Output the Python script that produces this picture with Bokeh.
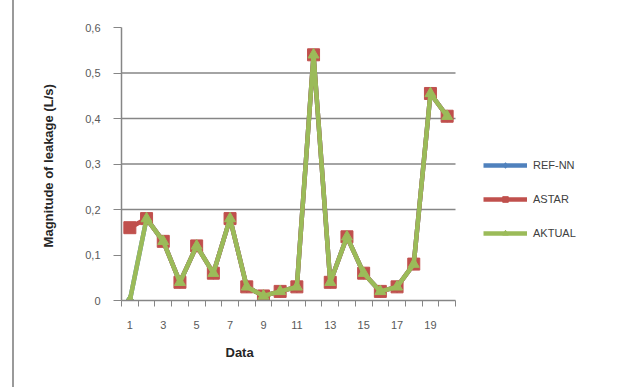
from bokeh.plotting import figure
from bokeh.models import (FixedTicker, Legend, LegendItem, Range1d, Title)
from bokeh.embed import file_html
from bokeh.resources import INLINE

# Observation number (category axis)
data_no = list(range(1, 21))
x_tick_labels = ["1", "3", "5", "7", "9", "11", "13", "15", "17", "19"]

# Magnitude of leakage (L/s) per method
ref_nn = [0.00, 0.18, 0.13, 0.04, 0.12, 0.06, 0.18, 0.03, 0.01, 0.02,
          0.03, 0.54, 0.04, 0.14, 0.06, 0.02, 0.03, 0.08, 0.455, 0.405]
astar = [0.16, 0.18, 0.13, 0.04, 0.12, 0.06, 0.18, 0.03, 0.01, 0.02,
         0.03, 0.54, 0.04, 0.14, 0.06, 0.02, 0.03, 0.08, 0.455, 0.405]
aktual = [0.00, 0.18, 0.13, 0.04, 0.12, 0.06, 0.18, 0.03, 0.01, 0.02,
          0.03, 0.54, 0.04, 0.14, 0.06, 0.02, 0.03, 0.08, 0.455, 0.405]

y_ticks = [0, 0.1, 0.2, 0.3, 0.4, 0.5, 0.6]
y_tick_labels = ["0", "0,1", "0,2", "0,3", "0,4", "0,5", "0,6"]
grid_levels = [0.2, 0.3, 0.4, 0.5]

BLUE = "#4F81BD"
RED = "#C0504D"
GREEN = "#9BBB59"
AXIS_GREY = "#868686"
FONT = "Liberation Sans"

# The frame also holds the legend to the right of the 20 categories;
# the category axis and gridlines are bounded to the plotted span.
FIG_W, BORDER_L, BORDER_R = 614, 107, 8
PLOT_SPAN_PX = 334
n = len(data_no)
x_end = 0.5 + n * (FIG_W - BORDER_L - BORDER_R) / PLOT_SPAN_PX

p = figure(width=FIG_W, height=387, output_backend="svg", toolbar_location=None,
           x_range=Range1d(0.5, x_end), y_range=Range1d(0, 0.6),
           min_border_left=BORDER_L, min_border_right=BORDER_R,
           min_border_top=27, min_border_bottom=87)
p.outline_line_color = None
p.background_fill_color = "white"
p.border_fill_color = "white"

# Category axis
p.xaxis.bounds = (0.5, n + 0.5)
p.xaxis.ticker = FixedTicker(ticks=list(range(1, n, 2)),
                             minor_ticks=[i + 0.5 for i in range(0, n + 1)])
p.xaxis.major_label_overrides = {t: lab for t, lab in zip(range(1, n, 2), x_tick_labels)}
p.xaxis.major_tick_line_color = None
p.xaxis.minor_tick_line_color = AXIS_GREY
p.xaxis.minor_tick_out = 6
p.xaxis.minor_tick_in = 0
p.xaxis.axis_line_color = AXIS_GREY
p.xaxis.axis_line_width = 1.5
p.xaxis.major_label_text_font = FONT
p.xaxis.major_label_text_font_size = "11px"
p.xaxis.major_label_text_color = "#595959"
p.xaxis.major_label_standoff = 14

# Axis title for the category axis, placed under the category span
p.add_layout(Title(text="Data", align="left", offset=104, standoff=23,
                   text_font=FONT, text_font_style="bold",
                   text_font_size="13px", text_color="#262626"), "below")

# Value axis
p.yaxis.ticker = FixedTicker(ticks=y_ticks)
p.yaxis.major_label_overrides = {t: lab for t, lab in zip(y_ticks, y_tick_labels)}
p.yaxis.major_tick_line_color = AXIS_GREY
p.yaxis.major_tick_out = 8
p.yaxis.major_tick_in = 0
p.yaxis.minor_tick_line_color = None
p.yaxis.axis_line_color = AXIS_GREY
p.yaxis.axis_line_width = 1.5
p.yaxis.major_label_text_font = FONT
p.yaxis.major_label_text_font_size = "11px"
p.yaxis.major_label_text_color = "#595959"
p.yaxis.major_label_standoff = 13
p.yaxis.axis_label = "Magnitude of leakage  (L/s)"
p.yaxis.axis_label_text_font = FONT
p.yaxis.axis_label_text_font_style = "bold"
p.yaxis.axis_label_text_font_size = "13px"
p.yaxis.axis_label_text_color = "#262626"
p.yaxis.axis_label_standoff = 26

p.xgrid.visible = False
p.ygrid.visible = False
# Horizontal gridlines across the category span only
p.segment(x0=[0.5] * len(grid_levels), y0=grid_levels,
          x1=[n + 0.5] * len(grid_levels), y1=grid_levels,
          line_color=AXIS_GREY, line_width=1.5)

# Series: REF-NN underneath, then ASTAR, then AKTUAL on top
r_ref_l = p.line(data_no, ref_nn, line_color=BLUE, line_width=4.5)
r_ref_m = p.scatter(data_no, ref_nn, marker="diamond", size=12, fill_color=BLUE, line_color=BLUE)
r_ast_l = p.line(data_no, astar, line_color=RED, line_width=4.5)
r_ast_m = p.scatter(data_no, astar, marker="square", size=12, fill_color=RED, line_color=RED)
r_akt_l = p.line(data_no, aktual, line_color=GREEN, line_width=4.5)
r_akt_m = p.scatter(data_no, aktual, marker="triangle", size=11, fill_color=GREEN, line_color=GREEN)

legend = Legend(items=[
    LegendItem(label="REF-NN", renderers=[r_ref_l, r_ref_m]),
    LegendItem(label="ASTAR", renderers=[r_ast_l, r_ast_m]),
    LegendItem(label="AKTUAL", renderers=[r_akt_l, r_akt_m]),
], location=(362, 60))
legend.border_line_color = None
legend.background_fill_alpha = 0
legend.label_text_font = FONT
legend.label_text_font_size = "11px"
legend.label_text_color = "#404040"
legend.glyph_width = 44
legend.glyph_height = 14
legend.spacing = 20
legend.padding = 2
legend.margin = 0
legend.label_standoff = 6
p.add_layout(legend, "center")

p.styles = {"border-left": "2px solid #9a9a9a", "margin-left": "12px"}

open("out.html", "w").write(file_html(p, INLINE))
